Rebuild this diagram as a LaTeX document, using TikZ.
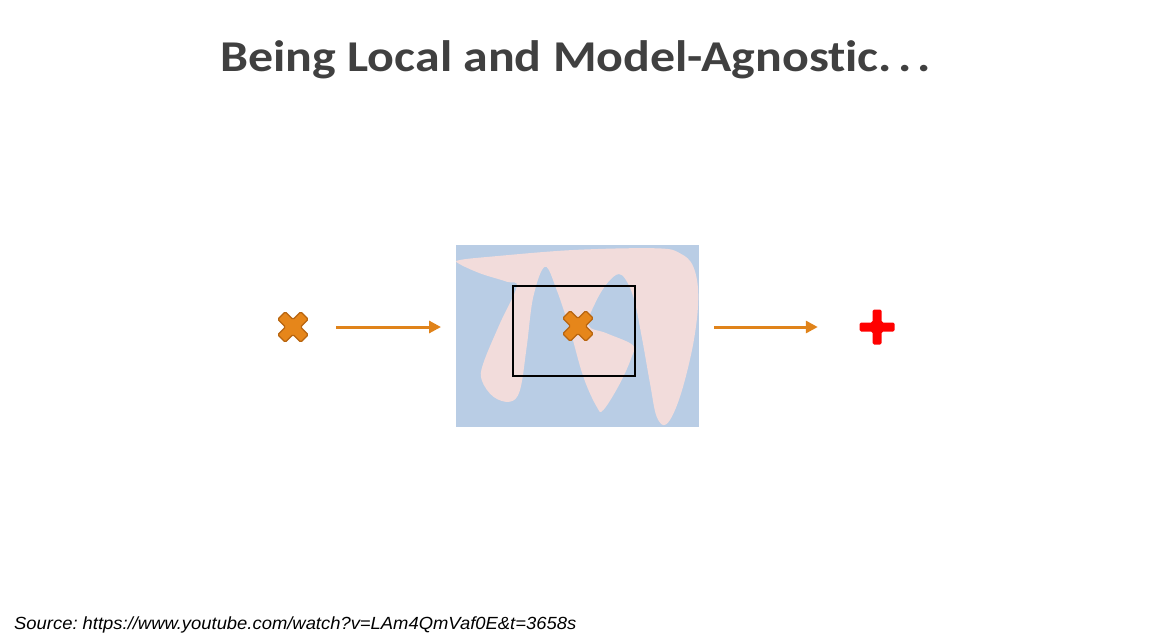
\documentclass[tikz,border=0pt]{standalone}
\usepackage{fontspec}
\setmainfont[Ligatures={NoCommon}]{Carlito}
\newfontfamily\srcfont{Liberation Sans}
\usetikzlibrary{arrows.meta}
\definecolor{titlegray}{HTML}{404040}
\definecolor{bgblue}{HTML}{B9CDE5}
\definecolor{lobepink}{HTML}{F2DCDB}
\definecolor{xorange}{HTML}{E6861A}
\definecolor{xedge}{HTML}{B8650F}
\definecolor{arrorange}{HTML}{E0831A}
\tikzset{
  arr/.style={draw=arrorange, line width=3pt, -{Triangle[length=12pt,width=12pt]}},
  xmark/.pic={
    \begin{scope}[rotate=45]
      \filldraw[fill=xorange, draw=xedge, line width=1.2pt, rounded corners=1.5pt]
        (5.3,16.3) -- (5.3,5.3) -- (16.3,5.3) -- (16.3,-5.3) -- (5.3,-5.3) -- (5.3,-16.3) -- (-5.3,-16.3) -- (-5.3,-5.3)
        -- (-16.3,-5.3) -- (-16.3,5.3) -- (-5.3,5.3) -- (-5.3,16.3) -- cycle;
    \end{scope}
  },
  plusmark/.pic={
    \fill[red, rounded corners=1.5pt]
      (4.5,17.5) -- (4.5,4.5) -- (17.5,4.5) -- (17.5,-4.5) -- (4.5,-4.5) -- (4.5,-17.5)
      -- (-4.5,-17.5) -- (-4.5,-4.5) -- (-17.5,-4.5) -- (-17.5,4.5) -- (-4.5,4.5) -- (-4.5,17.5) -- cycle;
  }
}
\begin{document}
\begin{tikzpicture}[x=1pt,y=-1pt]
\useasboundingbox (0,0) rectangle (1166,641);
% title
\node[anchor=base, text=titlegray, inner sep=0] (title) at (575.5,71.7) {\resizebox{710pt}{\height}{\fontsize{44}{50}\selectfont\bfseries Being Local and Model-Agnostic.\kern0.12em.\kern0.12em.}};
% model box
\node[fill=bgblue, minimum width=243pt, minimum height=181.5pt, inner sep=0, anchor=north west] (model) at (456,245) {};
\begin{scope}
  \clip (456,245) rectangle (699,426.5);
  \fill[lobepink] plot[smooth cycle, tension=0.6] coordinates {
    (458.3,263.3) (480,273.3) (506.7,281.7) (516.7,286.7) (500,323.3) (483.3,363.3)
    (481.7,380) (493.3,396.7) (510,401.7) (520,390) (526.7,346.7) (533.3,296.7)
    (545,266.7) (556.7,290) (570,330) (583.3,376.7) (596.7,406.7) (603.3,410)
    (620,383.3) (631.7,356.7) (632.7,345) (606.7,333.3) (588.3,325) (596.7,300)
    (610,280) (621.7,275) (633.3,296.7) (641.7,336.7) (650,383.3) (656.7,416.7)
    (666.7,424) (680,396.7) (693.3,343.3) (698.3,296.7) (693.3,266.7) (680,253.3)
    (656.7,248.3) (573.3,250) (490,256.7) (460,260)};
\end{scope}
\node[draw=black, line width=2pt, minimum width=122.5pt, minimum height=90pt, inner sep=0, anchor=north west] (local) at (511.8,285) {};
\node[minimum size=32pt, inner sep=0] (xmid) at (578,326) {};
\pic at (xmid) {xmark};
% input and output
\node[minimum size=32pt, inner sep=0] (xin) at (293,327) {};
\pic at (xin) {xmark};
\node[minimum size=36pt, inner sep=0] (yout) at (877,327) {};
\pic at (yout) {plusmark};
% arrows
\draw[arr, shorten <=27pt, shorten >=15pt] (xin) -- (model.west |- xin);
\draw[arr, shorten <=15pt, shorten >=41pt] (model.east |- yout) -- (yout);
% source
\node[anchor=base west, inner sep=0] (src) at (14,629.3) {\resizebox{562pt}{\height}{\srcfont\itshape\frenchspacing\fontsize{17.6}{20}\selectfont Source: https://www.youtube.com/watch?v=LAm4QmVaf0E\&t=3658s}};
\end{tikzpicture}
\end{document}
